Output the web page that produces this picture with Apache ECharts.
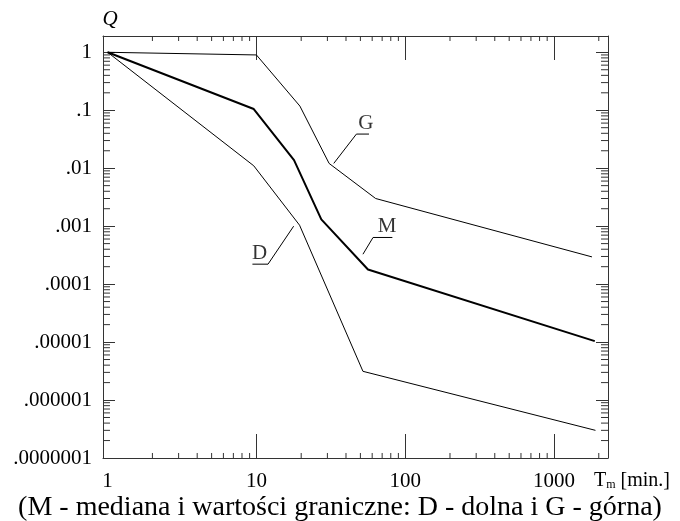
<!DOCTYPE html>
<html>
<head>
<meta charset="utf-8">
<script src="https://cdn.jsdelivr.net/npm/echarts@6/dist/echarts.min.js"></script>
<style>html,body{margin:0;padding:0;background:#fff}#c{width:680px;height:521px}</style>
</head>
<body>
<div id="c"></div>
<script>
// ---- data ----
const xG = [1, 10, 19.6, 30.8, 63.3, 1800];
const qG = [1, 0.9, 0.118, 0.0121, 0.0030, 0.000295];
const xM = [1, 9.6, 17.9, 27.3, 56.2, 1880];
const qM = [1, 0.105, 0.0138, 0.00131, 0.000179, 0.0000104];
const xD = [1, 9.6, 19.5, 52, 1900];
const qD = [1, 0.011, 0.00104, 0.00000313, 0.0000003];

// annotation leader lines (data space) and label anchors
const leaderG = [[33.1, 0.0121], [47, 0.0388], [57.1, 0.0388]];
const leaderM = [[52, 0.000328], [60.8, 0.000638], [82, 0.000638]];
const leaderD = [[17.8, 0.001], [11.97, 0.000221], [9.4, 0.000221]];
const seriesNames = ['G', 'M', 'D'];
const labelAnchors = [[54.3, 0.0388], [75.7, 0.000638], [10.5, 0.000221]];

// ticks
const xLabelValues = [1, 10, 100, 1000];
const xMajor = [10, 100, 1000];
const yMajor = [1, 0.1, 0.01, 0.001, 0.0001, 0.00001, 0.000001, 0.0000001];
const yTickLabels = ['1', '.1', '.01', '.001', '.0001', '.00001', '.000001', '.0000001'];
const captionText = '(M - mediana i wartości graniczne: D - dolna i G - górna)';

const X_MIN = 0.931, X_MAX = 2307, Y_MIN = 1e-7, Y_MAX = 1.91;

const xMinor = [];
[1, 10, 100, 1000].forEach(d => { for (let k = 2; k <= 9; k++) { const v = +(d * k).toPrecision(6); if (v <= X_MAX) xMinor.push(v); } });
const yMinor = [];
[1e-7, 1e-6, 1e-5, 1e-4, 1e-3, 1e-2, 1e-1, 1].forEach(d => { for (let k = 2; k <= 9; k++) { const v = +(d * k).toPrecision(6); if (v <= Y_MAX) yMinor.push(v); } });

const FONT = 'Liberation Serif';
const AX = '#333';

// minor tick lengths expressed as log-scale factors (≈5 px on x ticks, ≈7 px on y ticks)
const TX = Math.pow(10, 5 / 57.9);
const TY = Math.pow(10, 7 / 148.8);
const xMinorSegs = [];
xMinor.forEach(v => { xMinorSegs.push([v, Y_MIN], [v, Y_MIN * TX], [v, '-'], [v, Y_MAX / TX], [v, Y_MAX], [v, '-']); });
const yMinorSegs = [];
yMinor.forEach(v => { yMinorSegs.push([X_MIN, v], [X_MIN * TY, v], ['-', v], [X_MAX / TY, v], [X_MAX, v], ['-', v]); });

function axisDef(pos, min, max, ticks, len, opts) {
  return Object.assign({
    type: 'log', position: pos, min: min, max: max,
    splitLine: { show: false },
    axisLine: { show: true, onZero: false, lineStyle: { color: AX } },
    axisTick: { show: true, inside: true, length: len, customValues: ticks, lineStyle: { color: AX } },
    axisLabel: { show: false }
  }, opts || {});
}
function zip(xs, ys) { return xs.map((x, i) => [x, ys[i]]); }

const chart = echarts.init(document.getElementById('c'));
chart.setOption({
  animation: false,
  grid: { left: 103, right: 72, top: 36, bottom: 63 },
  title: {
    text: captionText, left: 'center', top: 489,
    textStyle: { fontFamily: FONT, fontSize: 28, fontWeight: 'normal', color: '#000' }
  },
  graphic: [{
    type: 'text', left: 594, top: 471,
    style: {
      text: '{t|T}{s|m}{t| [min.]}',
      rich: {
        t: { fontFamily: FONT, fontSize: 20, fill: '#000' },
        s: { fontFamily: FONT, fontSize: 12, fill: '#000', verticalAlign: 'bottom' }
      }
    }
  }],
  xAxis: [
    axisDef('bottom', X_MIN, X_MAX, xMajor, 24, {
      axisLabel: {
        show: true, customValues: xLabelValues, margin: 13,
        fontFamily: FONT, fontSize: 21, color: '#000',
        formatter: v => String(Math.round(v))
      }
    }),
    axisDef('top', X_MIN, X_MAX, xMajor, 24)
  ],
  yAxis: [
    axisDef('left', Y_MIN, Y_MAX, yMajor, 12, {
      axisLabel: {
        show: true, customValues: yMajor, margin: 11,
        fontFamily: FONT, fontSize: 21, color: '#000',
        formatter: v => { const i = yMajor.findIndex(t => Math.abs(Math.log10(t) - Math.log10(v)) < 1e-6); return i >= 0 ? yTickLabels[i] : ''; }
      },
      name: 'Q', nameLocation: 'end', nameGap: 6,
      nameTextStyle: { fontFamily: FONT, fontSize: 21, fontStyle: 'italic', color: '#000', padding: [0, 0, 0, 14] }
    }),
    axisDef('right', Y_MIN, Y_MAX, yMajor, 12)
  ],
  series: [
    { name: 'xMinorTicks', type: 'line', data: xMinorSegs, showSymbol: false, connectNulls: false, silent: true, clip: false,
      lineStyle: { color: AX, width: 1 } },
    { name: 'yMinorTicks', type: 'line', data: yMinorSegs, showSymbol: false, connectNulls: false, silent: true, clip: false,
      lineStyle: { color: AX, width: 1 } },
    { name: 'G', type: 'line', data: zip(xG, qG), showSymbol: false, lineStyle: { color: '#000', width: 1 } },
    { name: 'M', type: 'line', data: zip(xM, qM), showSymbol: false, lineStyle: { color: '#000', width: 2 } },
    { name: 'D', type: 'line', data: zip(xD, qD), showSymbol: false, lineStyle: { color: '#000', width: 1 } },
    { name: 'leaderG', type: 'line', data: leaderG, showSymbol: false, lineStyle: { color: '#000', width: 1 } },
    { name: 'leaderM', type: 'line', data: leaderM, showSymbol: false, lineStyle: { color: '#000', width: 1 } },
    { name: 'leaderD', type: 'line', data: leaderD, showSymbol: false, lineStyle: { color: '#000', width: 1 } },
    {
      name: 'labels', type: 'scatter', symbolSize: 0,
      data: labelAnchors.map((p, i) => ({ value: p, name: seriesNames[i] })),
      label: { show: true, position: 'top', distance: 0, formatter: p => p.name, fontFamily: FONT, fontSize: 21, color: '#000' }
    }
  ]
});
</script>
</body>
</html>
